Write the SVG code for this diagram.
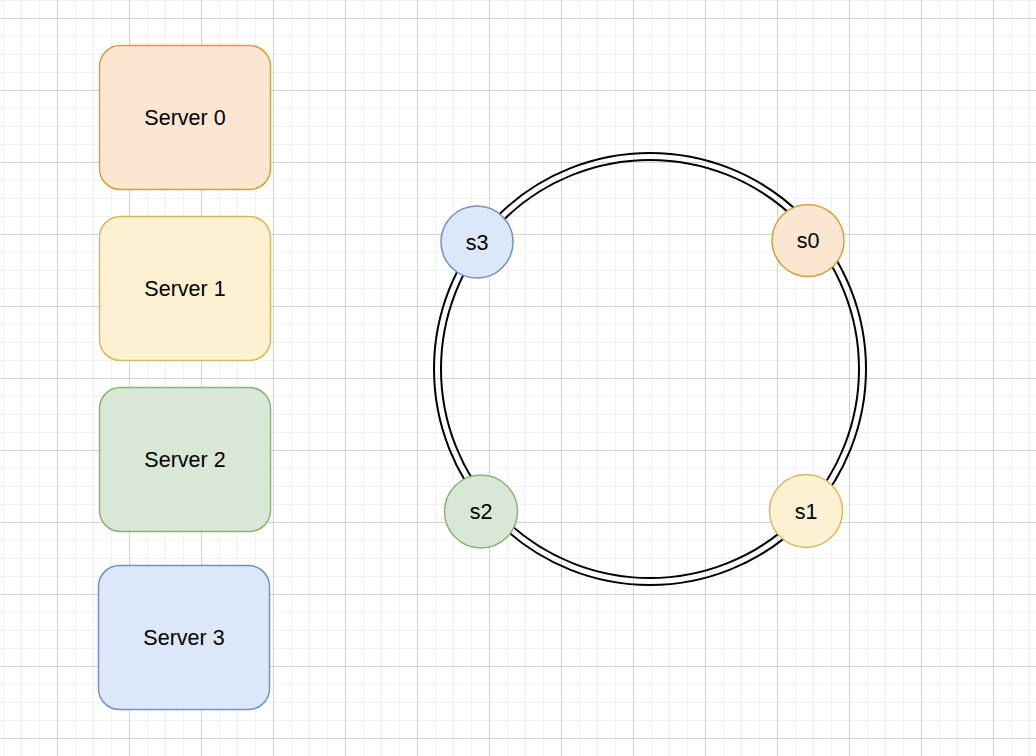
<svg xmlns="http://www.w3.org/2000/svg" width="1036" height="756" viewBox="0 0 1036 756">
  <defs>
    <pattern id="grid" patternUnits="userSpaceOnUse" x="57" y="18" width="72" height="72">
      <path d="M18.5 0V72M36.5 0V72M54.5 0V72M0 18.5H72M0 36.5H72M0 54.5H72" stroke="#f2f2f2" stroke-width="1" fill="none"/>
      <path d="M0.5 0V72M0 0.5H72" stroke="#d2d2d2" stroke-width="1" fill="none"/>
    </pattern>
  </defs>
  <style>
    text { font-family: "Liberation Sans", Arial, Helvetica, sans-serif; font-size: 21.5px; fill: #000; text-anchor: middle; }
    .box { stroke-width: 1.5; }
    .node { stroke-width: 1.5; }
    .ring { fill: none; stroke: #000; stroke-width: 2; }
    .c0 { fill: #fbe6d1; stroke: #d5a03a; }
    .c1 { fill: #fcf2d2; stroke: #d7b95e; }
    .c2 { fill: #d9e7d6; stroke: #8cb473; }
    .c3 { fill: #dde7fa; stroke: #7390c3; }
  </style>
  <rect width="1036" height="756" fill="#ffffff"/>
  <rect width="1036" height="756" fill="url(#grid)"/>

  <g id="ring">
    <circle cx="650" cy="369" r="216" fill="#ffffff" class="ring"/>
    <circle cx="650" cy="369" r="209" class="ring"/>
  </g>

  <g id="connectors"></g>

  <g id="server0">
    <rect class="box c0" x="99.5" y="45.5" width="171" height="144" rx="21" ry="21"/>
    <text x="185" y="125">Server 0</text>
  </g>
  <g id="server1">
    <rect class="box c1" x="99.5" y="216.5" width="171" height="144" rx="21" ry="21"/>
    <text x="185" y="296">Server 1</text>
  </g>
  <g id="server2">
    <rect class="box c2" x="99.5" y="387.5" width="171" height="144" rx="21" ry="21"/>
    <text x="185" y="467">Server 2</text>
  </g>
  <g id="server3">
    <rect class="box c3" x="98.5" y="565.5" width="171" height="144" rx="21" ry="21"/>
    <text x="184" y="645">Server 3</text>
  </g>

  <g id="s0">
    <circle class="node c0" cx="808" cy="240.5" r="36"/>
    <text x="808" y="248">s0</text>
  </g>
  <g id="s1">
    <circle class="node c1" cx="806" cy="511" r="36.5"/>
    <text x="806" y="518.5">s1</text>
  </g>
  <g id="s2">
    <circle class="node c2" cx="481" cy="511.5" r="36.5"/>
    <text x="481" y="519">s2</text>
  </g>
  <g id="s3">
    <circle class="node c3" cx="477" cy="242" r="36"/>
    <text x="477" y="249.5">s3</text>
  </g>
</svg>
